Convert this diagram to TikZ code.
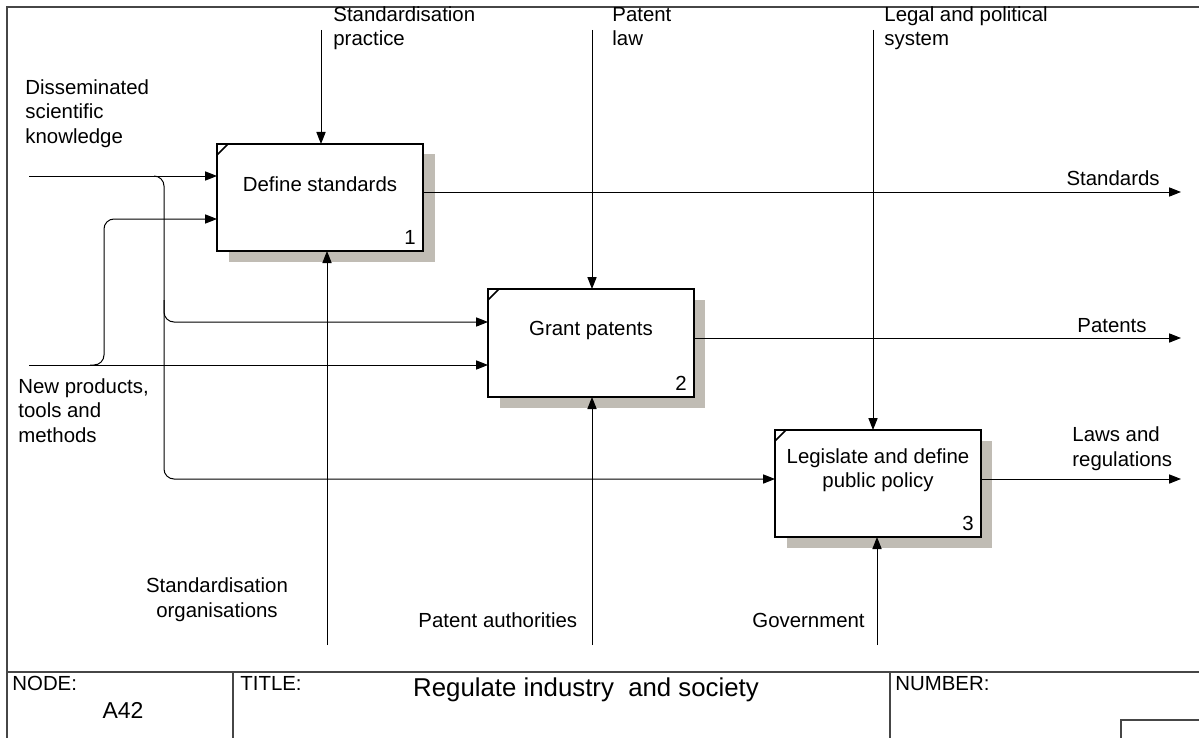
\documentclass[tikz,border=0pt]{standalone}
\usepackage{fontspec}
\setmainfont{Liberation Sans}
\usetikzlibrary{arrows.meta}
\definecolor{shadowc}{RGB}{192,188,180}
\definecolor{framec}{RGB}{70,70,70}
\begin{document}
\begin{tikzpicture}[x=0.5pt,y=-0.5pt,
  lbl/.style={font=\fontsize{10.2}{12.2}\selectfont,inner sep=0pt,align=left},
  flow/.style={line width=0.5pt,-{Triangle[length=6pt,width=4.6pt]}},
  actbox/.style={draw,line width=1.1pt,fill=white},
  shadowbox/.style={fill=shadowc},
  frame/.style={draw=framec,line width=0.8pt}]
\useasboundingbox (0,0) rectangle (1199,738);
% frame
\draw[frame] (1199,7) -- (7,7) -- (7,738);
\draw[frame] (7,672) -- (1199,672);
\draw[frame] (233,672) -- (233,738);
\draw[frame] (890,672) -- (890,738);
\draw[frame] (1199,720) -- (1121,720) -- (1121,738);
% table text
\node[lbl,anchor=base west] (tnode) at (12,690) {NODE:};
\node[lbl,anchor=base,font=\fontsize{11.5}{14}\selectfont] (tnum) at (123,718) {A42};
\node[lbl,anchor=base west] (ttitle) at (240,690) {TITLE:};
\node[lbl,anchor=base,font=\fontsize{12.9}{15}\selectfont] (tname) at (586,696) {Regulate industry\ \ and society};
\node[lbl,anchor=base west] (tnumber) at (895,690) {NUMBER:};
% shadows
\fill[shadowbox] (229,154) rectangle (435,262);
\fill[shadowbox] (500,300) rectangle (705,408);
\fill[shadowbox] (787,441) rectangle (992,548);
% boxes
\draw[actbox] (217,144) rectangle (423,251);
\draw[actbox] (488,289) rectangle (694,397);
\draw[actbox] (775,430) rectangle (981,537);
\draw[line width=0.8pt] (217,155) -- (228,144);
\draw[line width=0.8pt] (488,300) -- (499,289);
\draw[line width=0.8pt] (775,441) -- (786,430);
\node[lbl,anchor=center] (b1) at (320,184) {Define standards};
\node[lbl,anchor=base east] (n1) at (416,244) {1};
\node[lbl,anchor=center] (b2) at (591,330) {Grant patents};
\node[lbl,anchor=base east] (n2) at (687,390) {2};
\node[lbl,anchor=center,align=center] (b3) at (878,470) {Legislate and define\\public policy};
\node[lbl,anchor=base east] (n3) at (974,530) {3};
% coordinates
\coordinate (c1t) at (321,30); \coordinate (c1b) at (321,144);
\coordinate (c2t) at (592,30); \coordinate (c2b) at (592,289);
\coordinate (c3t) at (873,30); \coordinate (c3b) at (873,430);
\coordinate (m1b) at (327,645); \coordinate (m1t) at (327,251);
\coordinate (m2b) at (592,645); \coordinate (m2t) at (592,397);
\coordinate (m3b) at (877,645); \coordinate (m3t) at (877,537);
\coordinate (o1s) at (423,192); \coordinate (o1e) at (1181,192);
\coordinate (o2s) at (694,338); \coordinate (o2e) at (1181,338);
\coordinate (o3s) at (981,479); \coordinate (o3e) at (1181,479);
\coordinate (i1s) at (29,176); \coordinate (i1e) at (217,176);
\coordinate (i2s) at (29,365); \coordinate (i2e) at (488,365);
\coordinate (i1b2) at (488,322); \coordinate (i1b3) at (775,479);
\coordinate (i2b1) at (217,219);
% controls
\draw[flow] (c1t) -- (c1b);
\draw[flow] (c2t) -- (c2b);
\draw[flow] (c3t) -- (c3b);
% mechanisms
\draw[flow] (m1b) -- (m1t);
\draw[flow] (m2b) -- (m2t);
\draw[flow] (m3b) -- (m3t);
% outputs
\draw[flow] (o1s) -- (o1e);
\draw[flow] (o2s) -- (o2e);
\draw[flow] (o3s) -- (o3e);
% inputs
\draw[flow] (i1s) -- (i1e);
\draw[flow] (i2s) -- (i2e);
\draw[flow,rounded corners=5] (154,176) -- (164,176) -- (164,322) -- (i1b2);
\draw[flow,rounded corners=5] (164,300) -- (164,479) -- (i1b3);
\draw[flow,rounded corners=5] (90,365) -- (104,365) -- (104,219) -- (i2b1);
% labels (base = baseline of last line)
\node[lbl,anchor=base west] (lsp) at (333,46) {Standardisation\\practice};
\node[lbl,anchor=base west] (lpl) at (612,46) {Patent\\law};
\node[lbl,anchor=base west] (llp) at (884,46) {Legal and political\\system};
\node[lbl,anchor=base west] (ldk) at (25,143) {Disseminated\\scientific\\knowledge};
\node[lbl,anchor=base west] (lnp) at (18,442) {New products,\\tools and\\methods};
\node[lbl,anchor=base,align=center] (lso) at (217,617) {Standardisation\\organisations};
\node[lbl,anchor=base west] (lpa) at (418,627) {Patent authorities};
\node[lbl,anchor=base west] (lgov) at (752,627) {Government};
\node[lbl,anchor=base east] (lstd) at (1160,185) {Standards};
\node[lbl,anchor=base east] (lpat) at (1147,332) {Patents};
\node[lbl,anchor=base west] (llaw) at (1072,466) {Laws and\\regulations};
\end{tikzpicture}
\end{document}
